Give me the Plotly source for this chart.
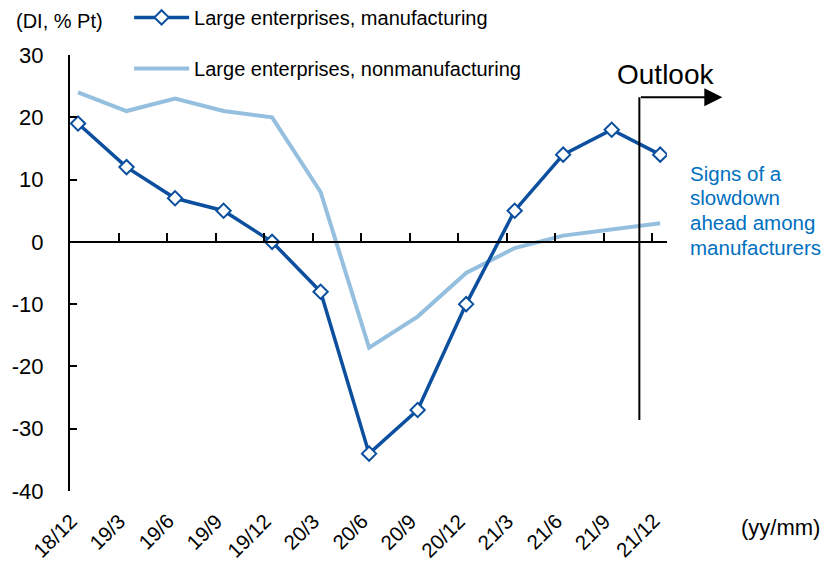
import plotly.graph_objects as go

# Quarterly survey dates (yy/mm)
periods = ["18/12", "19/3", "19/6", "19/9", "19/12", "20/3", "20/6",
           "20/9", "20/12", "21/3", "21/6", "21/9", "21/12"]
# Business conditions DI, large enterprises
manufacturing = [19, 12, 7, 5, 0, -8, -34, -27, -10, 5, 14, 18, 14]
nonmanufacturing = [24, 21, 23, 21, 20, 8, -17, -12, -5, -1, 1, 2, 3]

y_range = [-40, 30]
y_ticks = [30, 20, 10, 0, -10, -20, -30, -40]
y_ticktext = [str(v) for v in y_ticks]  # plain hyphen minus

note_lines = ["Signs of a", "slowdown", "ahead among", "manufacturers"]

xs = list(range(len(periods)))
FONT = "Liberation Sans, Arial, sans-serif"
DARK = "#0B4F9E"
LIGHT = "#94BFDE"
NOTE = "#0070C0"

fig = go.Figure()
fig.add_trace(go.Scatter(
    x=xs, y=nonmanufacturing, mode="lines",
    name="Large enterprises, nonmanufacturing",
    line=dict(color=LIGHT, width=4),
    legendgroup="b", legendrank=2,
))
fig.add_trace(go.Scatter(
    x=xs, y=manufacturing, mode="lines+markers",
    name="Large enterprises, manufacturing",
    line=dict(color=DARK, width=3.5),
    marker=dict(symbol="diamond", size=11, color="white",
                line=dict(color=DARK, width=2)),
    legendgroup="a", legendrank=1,
))

# category boundary ticks sit slightly left of each point
offset = 0.165
tick_pos = [x - offset for x in xs]
zero_frac = (0 - y_range[0]) / (y_range[1] - y_range[0])

annotations = []
for x, lab in zip(xs, periods):
    annotations.append(dict(
        x=x + 0.12, y=-0.035, xref="x", yref="paper", text=lab,
        textangle=-45, xanchor="right", yanchor="top", showarrow=False,
        font=dict(family=FONT, size=20.5, color="black"),
    ))
annotations += [
    dict(x=1.2596, y=-0.0826, xref="paper", yref="paper", text="(yy/mm)",
         xanchor="right", yanchor="middle", showarrow=False,
         font=dict(family=FONT, size=22, color="black")),
    dict(x=-0.094, y=1.078, xref="paper", yref="paper", text="(DI, % Pt)",
         xanchor="left", yanchor="middle", showarrow=False,
         font=dict(family=FONT, size=20, color="black")),
    # outlook arrow
    dict(x=13.28, y=23.2, ax=11.57, ay=23.2, xref="x", yref="y",
         axref="x", ayref="y", text="", showarrow=True, arrowhead=2,
         arrowsize=1.8, arrowwidth=2, arrowcolor="black"),
    dict(x=12.1, y=26.9, xref="x", yref="y", text="Outlook",
         xanchor="center", yanchor="middle", showarrow=False,
         font=dict(family=FONT, size=28, color="black")),
]
# note beside the outlook, one annotation per line for even spacing
note_top = 173
for i, line in enumerate(note_lines):
    ypx = note_top + i * 24.7
    annotations.append(dict(
        x=1.0355, y=(491 - ypx) / 436, xref="paper", yref="paper",
        text=line, xanchor="left", yanchor="middle", showarrow=False,
        font=dict(family=FONT, size=20.5, color=NOTE),
    ))

fig.update_layout(
    width=823, height=563,
    margin=dict(l=70, r=156, t=55, b=72, autoexpand=False),
    paper_bgcolor="white", plot_bgcolor="white",
    font=dict(family=FONT, size=20, color="black"),
    showlegend=True,
    legend=dict(x=0.099, y=1.131, xanchor="left", yanchor="top",
                bgcolor="rgba(0,0,0,0)", tracegroupgap=22, itemwidth=55,
                font=dict(family=FONT, size=20, color="black"),
                traceorder="grouped"),
    xaxis=dict(range=[-offset, 12.14], showgrid=False, zeroline=False,
               anchor="free", position=zero_frac,
               showline=True, linecolor="black", linewidth=2,
               tickmode="array", tickvals=tick_pos, ticks="inside",
               ticklen=8, tickwidth=2, tickcolor="black",
               showticklabels=False),
    yaxis=dict(range=y_range, showgrid=False, zeroline=False,
               showline=True, linecolor="black", linewidth=2,
               tickmode="array", tickvals=y_ticks, ticktext=y_ticktext,
               ticks="inside",
               ticklen=7, tickwidth=2, tickcolor="black",
               ticklabelstandoff=20,
               tickfont=dict(family=FONT, size=22, color="black")),
    annotations=annotations,
    shapes=[dict(type="line", xref="x", yref="y", x0=11.57, x1=11.57,
                 y0=23.2, y1=-28.6, line=dict(color="black", width=2))],
)

fig.write_html("out.html")
